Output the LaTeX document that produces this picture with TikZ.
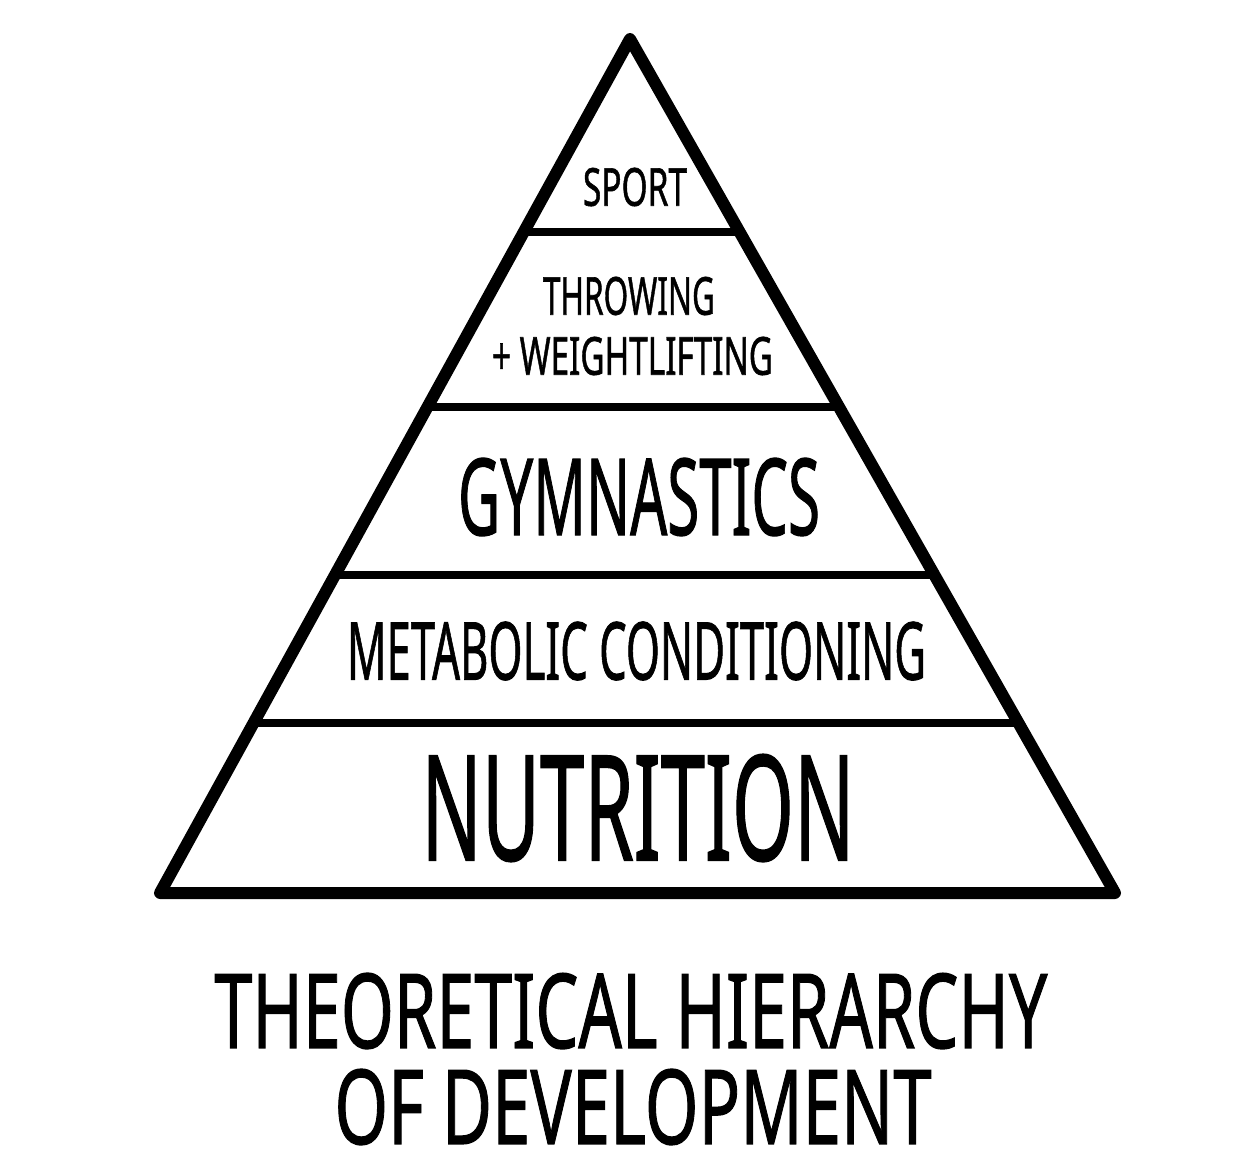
\documentclass[tikz,border=0pt]{standalone}
\usepackage{fontspec}
\usepackage{graphicx}
\setmainfont{Noto Sans}
\newfontfamily\handfont{Noto Sans}[FakeBold=1.2]
\usetikzlibrary{calc}
\newcommand{\fitlabel}[3]{\resizebox{#1pt}{#2pt}{\handfont #3}}
\tikzset{
  outline/.style={line width=12pt, line join=round, line cap=round, black},
  divider/.style={line width=8pt, line cap=round, black},
  lbl/.style={inner sep=0pt, outer sep=0pt, anchor=center, text=black}
}
\begin{document}
\begin{tikzpicture}[x=1pt,y=-1pt]
\useasboundingbox (0,0) rectangle (1254,1175);
\fill[white] (0,0) rectangle (1254,1175);
% pyramid corners
\coordinate (apex) at (630,39);
\coordinate (bl) at (160,893);
\coordinate (br) at (1115,893);
% divider ends
\coordinate (l1) at ($(apex)!0.226!(bl)$);   \coordinate (r1) at ($(apex)!0.226!(br)$);
\coordinate (l2) at ($(apex)!0.4309!(bl)$);  \coordinate (r2) at ($(apex)!0.4309!(br)$);
\coordinate (l3) at ($(apex)!0.6276!(bl)$);  \coordinate (r3) at ($(apex)!0.6276!(br)$);
\coordinate (l4) at ($(apex)!0.8009!(bl)$);  \coordinate (r4) at ($(apex)!0.8009!(br)$);
% dividers
\draw[divider] (l1) -- (r1);
\draw[divider] (l2) -- (r2);
\draw[divider] (l3) -- (r3);
\draw[divider] (l4) -- (r4);
% outline
\draw[outline] (bl) -- (apex) -- (br) -- cycle;
% labels
\node[lbl] (sport) at (635,187) {\fitlabel{104}{38}{SPORT}};
\node[lbl] (throw) at (629,296) {\fitlabel{172}{38}{THROWING}};
\node[lbl] (weight) at (632.5,356) {\fitlabel{281}{38}{+ WEIGHTLIFTING}};
\node[lbl] (gym) at (639,497) {\fitlabel{362}{77}{GYMNASTICS}};
\node[lbl] (meta) at (636.5,651) {\fitlabel{579}{58}{METABOLIC CONDITIONING}};
\node[lbl] (nutr) at (638,808) {\fitlabel{433}{106}{NUTRITION}};
\node[lbl] (title1) at (631,1011) {\fitlabel{833}{75}{THEORETICAL HIERARCHY}};
\node[lbl] (title2) at (633,1107) {\fitlabel{597}{75}{OF DEVELOPMENT}};
\end{tikzpicture}
\end{document}
